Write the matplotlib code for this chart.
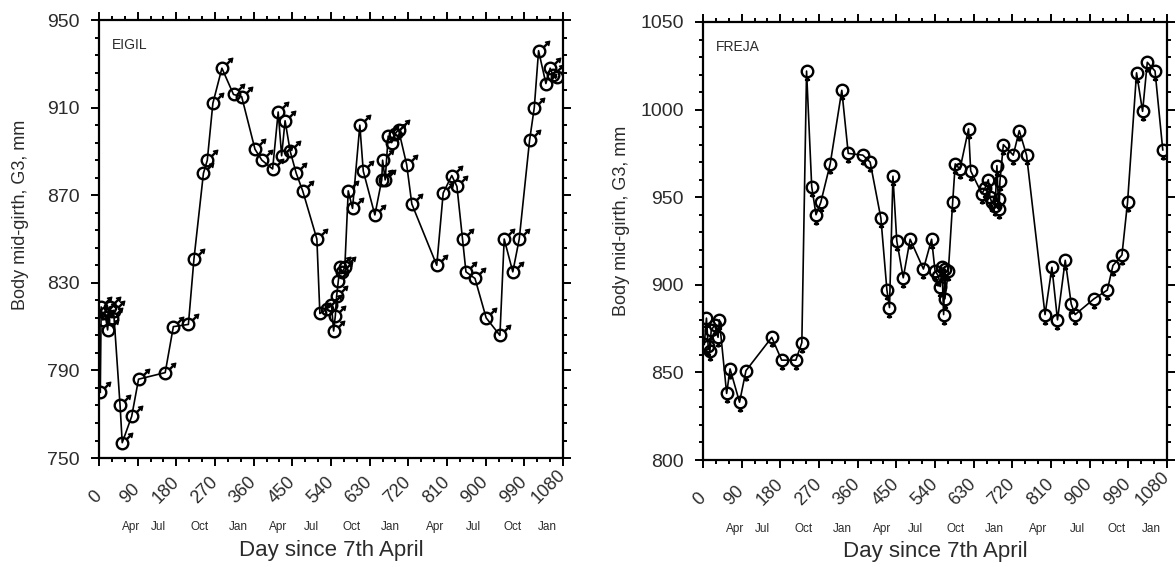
import matplotlib
matplotlib.use("Agg")
import numpy as np
import matplotlib.pyplot as plt
from matplotlib.path import Path
from matplotlib.ticker import MultipleLocator, FixedLocator
from matplotlib.transforms import blended_transform_factory, ScaledTranslation

plt.rcParams['font.family'] = ['Liberation Sans', 'DejaVu Sans']

# ---------------- data ----------------
eigil_day = [3, 5, 9, 14, 20, 25, 30, 34, 49, 54, 76, 92, 154, 173, 208, 221,
             243, 252, 265, 286, 313, 332, 363, 379, 404, 417, 425, 433, 445, 459,
             474, 507, 514, 530, 541, 546, 550, 553, 557, 561, 566, 572, 580, 590,
             607, 615, 642, 658, 660, 666, 673, 681, 689, 697, 716, 728, 786, 801,
             821, 833, 846, 854, 875, 901, 933, 943, 963, 978, 1002, 1013, 1023,
             1040, 1050, 1056, 1065]
eigil_girth = [780, 819, 813, 816, 808.5, 819, 814, 817, 774, 757, 769, 786, 789,
               810, 811, 841, 880, 886, 912, 928, 916, 915, 891, 886, 882, 908, 888,
               904, 890, 880, 872, 850, 816, 818, 820, 808, 815, 824, 831, 837, 835,
               837, 872, 864, 902, 881, 861, 877, 886, 877, 897, 894, 898, 900, 884,
               866, 838, 871, 879, 874, 850, 835, 832, 814, 806, 850, 835, 850, 895,
               910, 936, 921, 928, 925, 924]

freja_day = [3, 8, 12, 16, 19, 27, 35, 38, 55, 63, 85, 100, 160, 183, 216, 230,
             241, 253, 263, 274, 296, 323, 338, 372, 389, 414, 428, 434, 442, 451,
             466, 482, 513, 532, 540, 548, 552, 556, 560, 563, 563, 571, 581, 587,
             598, 618, 623, 649, 656, 664, 668, 672, 680, 684, 688, 690, 691, 699,
             722, 736, 753, 796, 812, 825, 843, 857, 866, 910, 941, 954, 975, 988,
             1009, 1023, 1034, 1052, 1070]
freja_girth = [866, 881, 865, 862, 874, 877, 870, 880, 838, 852, 833, 851, 870, 857,
               857, 867, 1022, 956, 940, 947, 969, 1011, 975, 974, 970, 938, 897, 887,
               962, 925, 904, 926, 909, 926, 908, 905, 899, 910, 883, 909, 892, 908,
               947, 969, 966, 989, 965, 952, 955, 960, 950, 947, 945, 968, 943, 949,
               959, 980, 974, 988, 974, 883, 910, 880, 914, 889, 883, 892, 897, 911,
               917, 947, 1021, 999, 1027, 1022, 977]

day_ticks = list(range(0, 1081, 90))
eigil_yticks = [750, 790, 830, 870, 910, 950]
freja_yticks = [800, 850, 900, 950, 1000, 1050]
month_labels = ['Apr', 'Jul', 'Oct', 'Jan', 'Apr', 'Jul', 'Oct', 'Jan', 'Apr', 'Jul', 'Oct', 'Jan']
month_days = [74, 139, 233, 324, 417, 494, 588, 678, 781, 872, 962, 1044]

# ---------------- markers ----------------
M, L, C = Path.MOVETO, Path.LINETO, Path.CLOSEPOLY
circle = Path.unit_circle()
T = 1.8
male_ring = Path.make_compound_path(
    circle,
    Path([(0.71, 0.71), (T * 0.92, T * 0.92)], [M, L]),
    Path([(-T, -T)], [M]),          # keeps scale identical to the head marker
)
male_head = Path([(T, T), (T - 0.8, T - 0.18), (T - 0.18, T - 0.8), (T, T)],
                 [M, L, L, C])
male_head = Path.make_compound_path(male_head, Path([(-T, -T)], [M]))
female = Path.make_compound_path(
    circle,
    Path([(0, -1.0), (0, -1.75)], [M, L]),
    Path([(-0.45, -1.45), (0.45, -1.45)], [M, L]),
)

TXT = '#2b2b2b'
fig = plt.figure(figsize=(11.76, 5.67), dpi=100)
axes = [fig.add_axes([0.0842, 0.1922, 0.3946, 0.7725]),
        fig.add_axes([0.5978, 0.1887, 0.3946, 0.7725])]

panels = [
    (axes[0], eigil_day, eigil_girth, 'EIGIL', (750, 950), eigil_yticks, 8, (0.555, -0.170)),
    (axes[1], freja_day, freja_girth, 'FREJA', (800, 1050), freja_yticks, 10, (0.545, -0.175)),
]

shift = ScaledTranslation(6 / 100, 0, fig.dpi_scale_trans)

for i, (ax, d, g, name, ylim, yt, ymin, (ly, lx)) in enumerate(panels):
    if i == 0:
        ax.plot(d, g, color='black', lw=1.2, marker=male_ring, ms=15, mfc='none',
                mec='black', mew=1.7, zorder=3)
        ax.plot(d, g, ls='none', marker=male_head, ms=15, mfc='black',
                mec='black', mew=0.8, zorder=3)
    else:
        ax.plot(d, g, color='black', lw=1.2, marker=female, ms=14.5, mfc='none',
                mec='black', mew=1.7, zorder=3)
    ax.set_xlim(0, 1080)
    ax.set_ylim(*ylim)
    ax.xaxis.set_minor_locator(MultipleLocator(30))
    ax.yaxis.set_major_locator(FixedLocator(yt))
    ax.yaxis.set_minor_locator(FixedLocator(np.arange(ylim[0], ylim[1] + 0.1, ymin)))
    for s in ax.spines.values():
        s.set_linewidth(1.6)
    ax.tick_params(which='both', direction='out', top=True, right=True,
                   width=1.4, colors='black', labelcolor=TXT)
    ax.tick_params(which='major', length=6)
    ax.tick_params(which='minor', length=3.2)
    ax.tick_params(axis='y', which='major', labelsize=14, pad=8)
    ax.tick_params(axis='x', which='major', labelsize=13, pad=29)
    ax.set_xticks(day_ticks)
    ax.set_xticklabels([str(t) for t in day_ticks], rotation=45, ha='right', va='bottom')
    for lab in ax.get_xticklabels():
        lab.set_transform(lab.get_transform() + shift)
    tr = blended_transform_factory(ax.transData, ax.transAxes)
    for md, ml in zip(month_days, month_labels):
        ax.text(md, -0.158, ml, transform=tr, ha='center', va='center',
                fontsize=8.5, color=TXT)
    ax.set_xlabel('Day since 7th April', fontsize=16, color=TXT, va='center')
    ax.xaxis.set_label_coords(0.5, -0.21)
    ax.set_ylabel('Body mid-girth, G3, mm', fontsize=13, color=TXT, va='center')
    ax.yaxis.set_label_coords(lx, ly)
    ax.text(0.028, 0.943, name, transform=ax.transAxes, fontsize=10, color=TXT,
            ha='left', va='center')

fig.savefig('out.png', dpi=100)
